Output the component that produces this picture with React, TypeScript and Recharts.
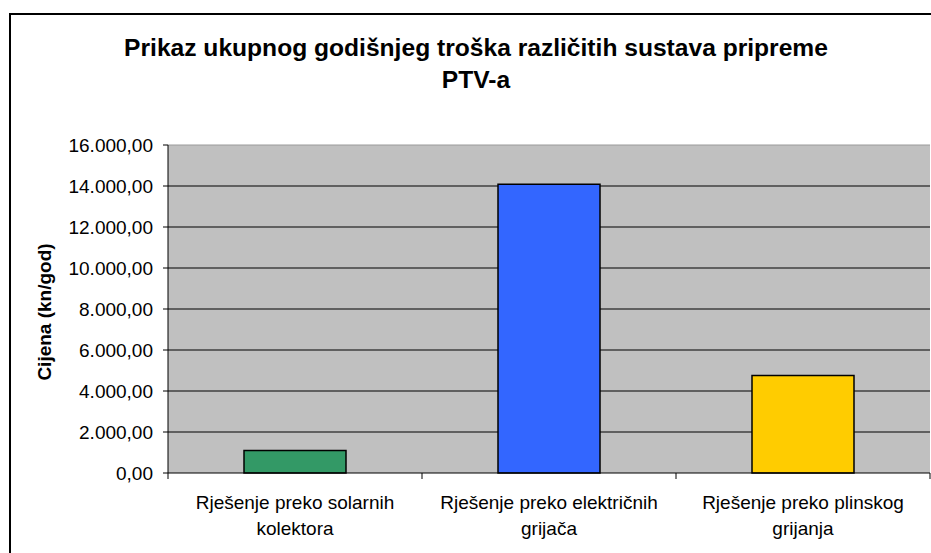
import { BarChart, Bar, XAxis, YAxis, CartesianGrid, Cell, ReferenceLine } from 'recharts';

const categories = [
  'Rješenje preko solarnih kolektora',
  'Rješenje preko električnih grijača',
  'Rješenje preko plinskog grijanja',
];
const costs = [1100, 14080, 4760];
const barColors = ['#339966', '#3366FF', '#FFCC00'];
const yTicks = [0, 2000, 4000, 6000, 8000, 10000, 12000, 14000, 16000];

const data = categories.map((name, i) => ({ name, value: costs[i] }));

const W = 931;
const H = 553;
const PLOT_LEFT = 168;
const PLOT_RIGHT = 930;
const BAND = (PLOT_RIGHT - PLOT_LEFT) / categories.length;
const FONT = '"Liberation Sans", Arial, sans-serif';

// 16.000,00 style
function formatHr(v: number) {
  const [int, dec] = v.toFixed(2).split('.');
  return int.replace(/\B(?=(\d{3})+(?!\d))/g, '.') + ',' + dec;
}

function CategoryTick(props: any) {
  const { x, y, payload, index } = props;
  const text: string = payload.value;
  const cut = text.lastIndexOf(' ');
  const l1 = text.slice(0, cut);
  const l2 = text.slice(cut + 1);
  const axisY = y - 6;
  return (
    <g>
      <line x1={x - BAND / 2} x2={x - BAND / 2} y1={axisY} y2={axisY + 6} stroke="#000" />
      {index === categories.length - 1 && (
        <line x1={x + BAND / 2} x2={x + BAND / 2} y1={axisY} y2={axisY + 6} stroke="#000" />
      )}
      <text x={x} y={axisY + 36} textAnchor="middle" fontSize={19} fontFamily={FONT} fill="#000">
        {l1}
      </text>
      <text x={x} y={axisY + 62} textAnchor="middle" fontSize={19} fontFamily={FONT} fill="#000">
        {l2}
      </text>
    </g>
  );
}

export default function App() {
  return (
    <div
      style={{
        position: 'fixed',
        left: 0,
        top: 0,
        width: W,
        height: H,
        overflow: 'hidden',
        background: '#fff',
        fontFamily: FONT,
      }}
    >
      <div
        style={{
          position: 'absolute',
          left: 9,
          top: 13,
          width: W + 20,
          height: H + 20,
          border: '2px solid #000',
        }}
      />
      <div
        style={{
          position: 'absolute',
          left: 0,
          top: 32,
          width: 952,
          textAlign: 'center',
          fontWeight: 'bold',
          fontSize: 24.6,
          lineHeight: '32px',
          color: '#000',
        }}
      >
        Prikaz ukupnog godišnjeg troška različitih sustava pripreme
        <br />
        PTV-a
      </div>
      <div
        style={{
          position: 'absolute',
          left: 45,
          top: 312,
          transform: 'translate(-50%, -50%) rotate(-90deg)',
          whiteSpace: 'nowrap',
          fontWeight: 'bold',
          fontSize: 19,
          color: '#000',
        }}
      >
        Cijena (kn/god)
      </div>
      <div style={{ position: 'absolute', left: 0, top: 0 }}>
        <BarChart
          width={W}
          height={H}
          data={data}
          margin={{ top: 145, right: W - PLOT_RIGHT, left: 0, bottom: 0 }}
          barCategoryGap={0}
        >
          <CartesianGrid fill="#C0C0C0" stroke="#000" vertical={false} horizontalValues={yTicks.slice(1, -1)} />
          <ReferenceLine y={16000} stroke="#9a9a9a" />
          <XAxis
            dataKey="name"
            height={80}
            axisLine={{ stroke: '#000' }}
            tickLine={false}
            tickSize={6}
            tickMargin={0}
            interval={0}
            tick={<CategoryTick />}
          />
          <YAxis
            width={PLOT_LEFT}
            domain={[0, 16000]}
            ticks={yTicks}
            tickFormatter={formatHr}
            axisLine={{ stroke: '#000' }}
            tickLine={{ stroke: '#000' }}
            tickSize={5}
            tickMargin={10}
            tick={{ fontSize: 19, fill: '#000', fontFamily: FONT }}
          />
          <Bar dataKey="value" barSize={102} stroke="#000" strokeWidth={1.5} isAnimationActive={false}>
            {data.map((d, i) => (
              <Cell key={d.name} fill={barColors[i]} />
            ))}
          </Bar>
        </BarChart>
      </div>
    </div>
  );
}
